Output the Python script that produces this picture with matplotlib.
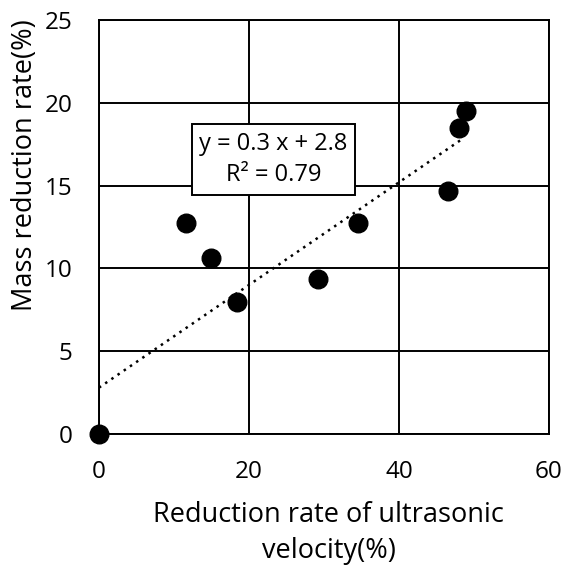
import numpy as np
import matplotlib.pyplot as plt

# values
velocidad = [0, 11.6, 14.9, 18.4, 29.2, 34.5, 46.5, 48.0, 48.9]
masa = [0, 12.75, 10.6, 8.0, 9.35, 12.75, 14.7, 18.5, 19.5]

# recta de tendencia tal como aparece en la figura
pendiente = 0.31
intercepto = 2.8
x_fin_tendencia = 48.3

x_ticks = [0, 20, 40, 60]
y_ticks = [0, 5, 10, 15, 20, 25]

plt.rcParams['font.family'] = ['Open Sans', 'DejaVu Sans']

fig = plt.figure(figsize=(5.66, 5.68), dpi=100)
ax = fig.add_axes([99 / 566, 1 - 434 / 568, 450 / 566, 414 / 568])

xs = np.array([0, x_fin_tendencia])
ax.plot(xs, pendiente * xs + intercepto, color="black", linestyle=(0, (1, 2)), linewidth=1.8, zorder=2)

ax.scatter(velocidad, masa, s=180, color="black", zorder=3, clip_on=False)

ax.set_xlim(0, 60)
ax.set_ylim(0, 25)
ax.set_xticks(x_ticks)
ax.set_yticks(y_ticks)
ax.tick_params(length=0, labelsize=17.5)
ax.tick_params(axis="x", pad=19)
ax.tick_params(axis="y", pad=19)
ax.grid(True, color="black", linewidth=1.4)
ax.set_axisbelow(True)
for lado in ax.spines.values():
    lado.set_linewidth(1.4)

ax.text(0.388, 0.663, "y = 0.3 x + 2.8\nR² = 0.79", transform=ax.transAxes,
        fontsize=17, ha="center", va="center", linespacing=1.4,
        bbox=dict(boxstyle="square,pad=0.32", facecolor="white", edgecolor="black", linewidth=1.4))

ax.set_xlabel("Reduction rate of ultrasonic\nvelocity(%)", fontsize=19.5, linespacing=1.4)
ax.xaxis.set_label_coords(0.51, -0.162)
ax.xaxis.label.set_va("top")
ax.set_ylabel("Mass reduction rate(%)", fontsize=19.5)
ax.yaxis.set_label_coords(-0.164, 0.65)
ax.yaxis.label.set_va("center")

fig.savefig("out.png", dpi=100)
